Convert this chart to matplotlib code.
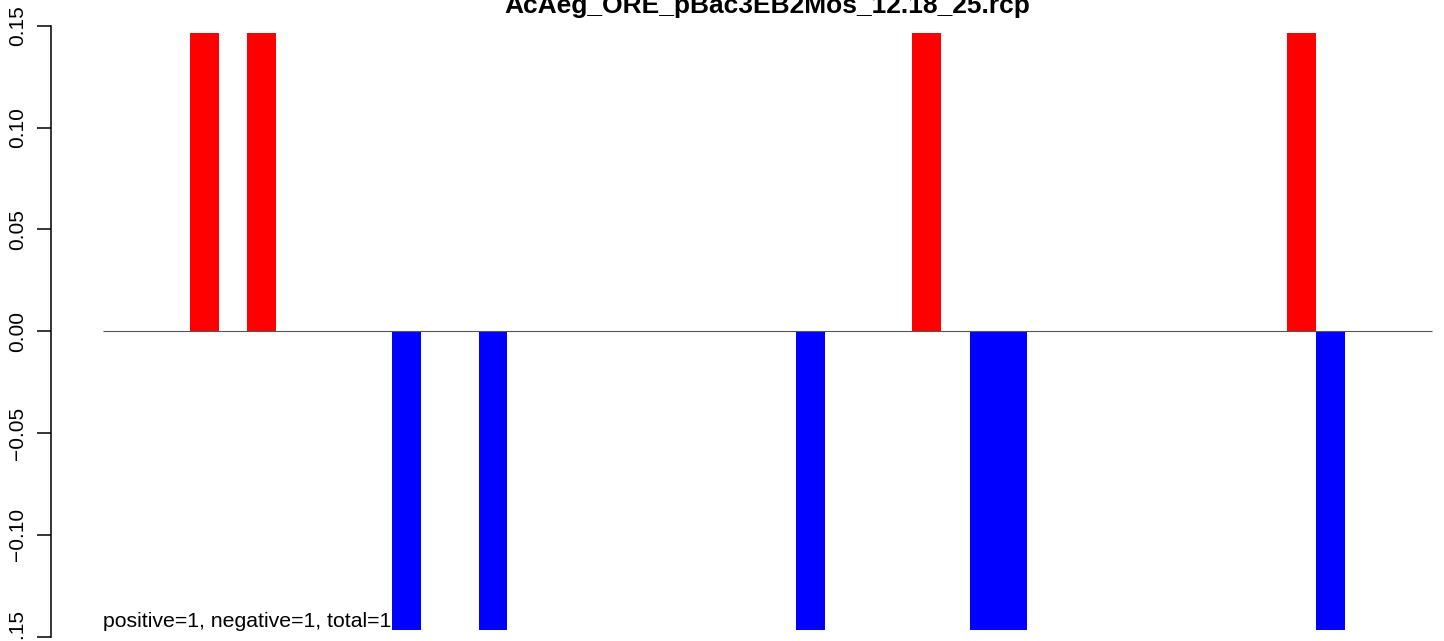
import numpy as np
import matplotlib
matplotlib.use('Agg')
import matplotlib.pyplot as plt

plt.rcParams['font.family'] = ['Liberation Sans', 'DejaVu Sans']

title = 'AcAeg_ORE_pBac3EB2Mos_12.18_25.rcp'
note = 'positive=1, negative=1, total=1'

# one value per slot, 46 slots
pos_slots = [3, 5, 28, 41]
neg_slots = [10, 13, 24, 30, 31, 42]
bar_height = 0.1466
n_slots = 46

values = np.zeros(n_slots)
values[pos_slots] = bar_height
values[neg_slots] = -bar_height

yticks = [-0.15, -0.10, -0.05, 0.00, 0.05, 0.10, 0.15]

W, H = 1444, 641
fig = plt.figure(figsize=(W / 100, H / 100), dpi=100)
ax = fig.add_axes([51 / W, 0, 1 - 51 / W, 1])

colors = ['red' if v > 0 else 'blue' for v in values]
ax.bar(np.arange(n_slots), values, width=1.0, align='edge',
       color=colors, edgecolor='none')
ax.hlines(0, 0, n_slots, colors='#555555', lw=0.8)

ax.set_xlim(-1.80, 46.42)
ax.set_ylim(-0.1521, 0.1626)

for s in ['top', 'right', 'bottom']:
    ax.spines[s].set_visible(False)
ax.spines['left'].set_bounds(-0.15, 0.15)
ax.spines['left'].set_linewidth(1.1)
ax.set_xticks([])
ax.set_yticks(yticks)
ax.set_yticklabels([('%.2f' % t).replace('-', '\u2212') for t in yticks],
                   rotation=90, va='center', fontsize=15)
ax.tick_params(axis='y', length=10, width=1.1, pad=7)

# note sits just above the lower edge, left aligned with the first slot
ax.text(0, -(627 - 331.2) / 2036.7, note, fontsize=15.3,
        ha='left', va='baseline')

fig.text((103 + 1432) / 2 / W, 1 - 13 / H, title, ha='center',
         va='baseline', fontsize=19, fontweight='bold')

fig.savefig('out.png', dpi=100)
